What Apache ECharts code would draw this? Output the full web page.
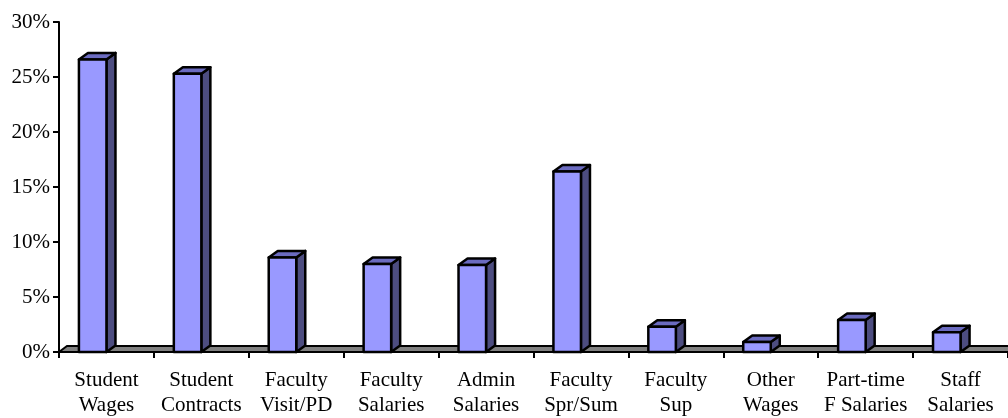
<!DOCTYPE html>
<html>
<head>
<meta charset="utf-8">
<script src="https://cdn.jsdelivr.net/npm/echarts@6/dist/echarts.min.js"></script>
<style>
html,body{margin:0;padding:0;background:#fff;}
#chart{width:1008px;height:418px;}
</style>
</head>
<body>
<div id="chart"></div>
<script>
const categories = ['Student\nWages','Student\nContracts','Faculty\nVisit/PD','Faculty\nSalaries','Admin\nSalaries','Faculty\nSpr/Sum','Faculty\nSup','Other\nWages','Part-time\nF Salaries','Staff\nSalaries'];
const values = [26.6, 25.3, 8.6, 8.0, 7.9, 16.4, 2.3, 0.9, 2.9, 1.8];
const yTicks = [0, 5, 10, 15, 20, 25, 30];

const chart = echarts.init(document.getElementById('chart'), null, {renderer:'canvas'});
const FONT = 'Liberation Serif';
const DY = 6.5;

chart.setOption({
  animation:false,
  backgroundColor:'#fff',
  grid:{left:59, right:0, top:22, bottom:64, containLabel:false},
  xAxis:{
    type:'category',
    data:categories,
    boundaryGap:true,
    axisLine:{show:true, lineStyle:{color:'#000', width:2}},
    axisTick:{show:true, length:6, lineStyle:{color:'#000', width:2}},
    axisLabel:{color:'#000', fontFamily:FONT, fontSize:21, lineHeight:25, margin:16, interval:0}
  },
  yAxis:{
    type:'value',
    min:yTicks[0], max:yTicks[yTicks.length-1], interval:5,
    splitLine:{show:false},
    axisLine:{show:true, lineStyle:{color:'#000', width:2}},
    axisTick:{show:true, length:6, lineStyle:{color:'#000', width:2}},
    axisLabel:{color:'#000', fontFamily:FONT, fontSize:21, margin:9, formatter:'{value}%'}
  },
  series:[
    {
      type:'custom',
      z:1,
      silent:true,
      data:[[0,0]],
      renderItem:function(params, api){
        const cs = params.coordSys;
        const b = cs.y + cs.height;
        const dx = 8;
        return {
          type:'polygon',
          shape:{points:[[cs.x, b],[cs.x+dx, b-6],[cs.x+cs.width+dx, b-6],[cs.x+cs.width, b]]},
          style:{fill:'#808080', stroke:'#000', lineWidth:2}
        };
      }
    },
    {
      type:'custom',
      z:3,
      data:values.map((v,i)=>[i,v]),
      renderItem:function(params, api){
        const idx = api.value(0), v = api.value(1);
        const top = api.coord([idx, v]);
        const base = api.coord([idx, 0]);
        const bw = api.size([1,0])[0];
        const xr = top[0];
        const xl = xr - bw*0.29;
        const dx = bw*0.095;
        const yt = top[1], yb = base[1];
        const st = {stroke:'#000', lineWidth:2.5, lineJoin:'round'};
        return {
          type:'group',
          children:[
            {type:'polygon', shape:{points:[[xr,yt],[xr+dx,yt-DY],[xr+dx,yb-DY],[xr,yb]]}, style:Object.assign({fill:'#4D4D80'},st)},
            {type:'polygon', shape:{points:[[xl,yt],[xl+dx,yt-DY],[xr+dx,yt-DY],[xr,yt]]}, style:Object.assign({fill:'#6B6BC0'},st)},
            {type:'rect', shape:{x:xl, y:yt, width:xr-xl, height:yb-yt}, style:Object.assign({fill:'#9999FF'},st)}
          ]
        };
      }
    }
  ]
});
</script>
</body>
</html>
